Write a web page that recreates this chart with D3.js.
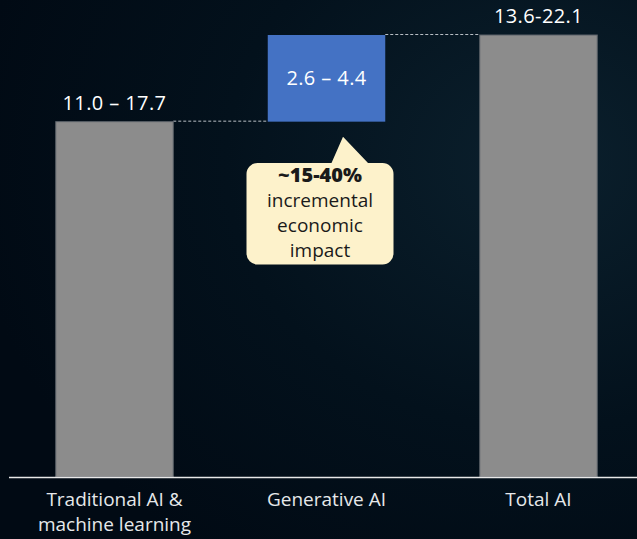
<!DOCTYPE html>
<html><head><meta charset="utf-8">
<script src="https://cdn.jsdelivr.net/npm/d3@7"></script>
<style>html,body{margin:0;padding:0;background:#020c17;overflow:hidden}</style>
</head><body>
<svg id="c" width="637" height="539"></svg>
<script>
const categories = ["Traditional AI & machine learning", "Generative AI", "Total AI"];
const categoryLines = [["Traditional AI &", "machine learning"], ["Generative AI"], ["Total AI"]];
const values = [14.35, 3.5, 17.85];          // mid-point of each range, $ trillion
const kinds = ["base", "delta", "total"];
const rangeLabels = ["11.0 \u2013 17.7", "2.6 \u2013 4.4", "13.6-22.1"];
const calloutLines = ["~15-40%", "incremental", "economic", "impact"];

const W = 637, H = 539;
const svg = d3.select("#c");
const defs = svg.append("defs");
const rg = defs.append("radialGradient").attr("id","bg").attr("cx","0.85").attr("cy","0.3").attr("r","0.9");
rg.append("stop").attr("offset","0").attr("stop-color","#0b202d");
rg.append("stop").attr("offset","0.55").attr("stop-color","#03111c");
rg.append("stop").attr("offset","1").attr("stop-color","#010a14");
svg.append("rect").attr("width",W).attr("height",H).attr("fill","url(#bg)");

const xs = d3.scalePoint().domain(categories).range([114.5, 538.5]);
const bw = 117.5;
const y = d3.scaleLinear().domain([0, 17.85]).range([477, 35]);

// build waterfall
let cum = 0;
const bars = values.map((v,i) => {
  let y0, y1;
  if (kinds[i] === "total") { y0 = 0; y1 = v; cum = v; }
  else { y0 = cum; y1 = cum + v; cum = y1; }
  return {cat: categories[i], y0, y1, kind: kinds[i], label: rangeLabels[i]};
});

// dashed connectors
for (let i = 0; i < bars.length - 1; i++) {
  const a = bars[i], b = bars[i+1];
  svg.append("line")
    .attr("x1", xs(a.cat) + bw/2).attr("x2", xs(b.cat) - bw/2)
    .attr("y1", y(a.y1) - 0.5).attr("y2", y(a.y1) - 0.5)
    .attr("stroke", "#b8bec4").attr("stroke-width", 1).attr("stroke-dasharray", "3,2");
}

svg.selectAll("rect.bar").data(bars).join("rect").attr("class","bar")
  .attr("x", d => xs(d.cat) - bw/2)
  .attr("width", bw)
  .attr("y", d => y(d.y1))
  .attr("height", d => y(d.y0) - y(d.y1))
  .attr("fill", d => d.kind === "delta" ? "#4472c4" : "#8c8c8c")
  .attr("stroke", d => d.kind === "delta" ? "none" : "#5b6168")
  .attr("stroke-width", 1);

// labels
const font = "'Open Sans', 'Noto Sans', sans-serif";
svg.selectAll("text.val").data(bars).join("text").attr("class","val")
  .attr("x", d => xs(d.cat))
  .attr("y", d => d.kind === "delta" ? (y(d.y1) + y(d.y0))/2 + 7 : y(d.y1) - 12)
  .attr("text-anchor","middle")
  .attr("font-family", font).attr("font-size", 20)
  .attr("letter-spacing", 0.4)
  .attr("fill", "#ffffff")
  .text(d => d.label);

// baseline
svg.append("line").attr("x1", 9).attr("x2", 637).attr("y1", 477.5).attr("y2", 477.5)
  .attr("stroke", "#e8e8e8").attr("stroke-width", 1.5);

// category labels
categoryLines.forEach((lines, i) => {
  const t = svg.append("text").attr("x", xs(categories[i])).attr("y", 506)
    .attr("text-anchor","middle").attr("font-family", font).attr("font-size", 19)
    .attr("fill", "#e6e8ea");
  lines.forEach((l, j) => t.append("tspan").attr("x", xs(categories[i])).attr("dy", j ? 25 : 0).text(l));
});

// callout
const bx0 = 246.5, bx1 = 393.5, by0 = 163, by1 = 264.5, r = 11;
const apexX = 343, apexY = y(bars[1].y0) + 15, tl = 331.5, tr = 368;
const path = d3.path();
path.moveTo(bx0 + r, by0);
path.lineTo(tl, by0);
path.lineTo(apexX, apexY);
path.lineTo(tr, by0);
path.lineTo(bx1 - r, by0);
path.arcTo(bx1, by0, bx1, by0 + r, r);
path.lineTo(bx1, by1 - r);
path.arcTo(bx1, by1, bx1 - r, by1, r);
path.lineTo(bx0 + r, by1);
path.arcTo(bx0, by1, bx0, by1 - r, r);
path.lineTo(bx0, by0 + r);
path.arcTo(bx0, by0, bx0 + r, by0, r);
path.closePath();
svg.append("path").attr("d", path.toString()).attr("fill", "#fdf2cb");

const ct = svg.append("text").attr("text-anchor","middle").attr("font-family", font)
  .attr("font-size", 19).attr("fill", "#1a1a1a");
calloutLines.forEach((l, j) => ct.append("tspan").attr("x", 320).attr("y", 182 + j*25)
  .attr("font-weight", j === 0 ? "800" : "normal")
  .attr("font-size", j === 0 ? 20 : 19).text(l));
</script>
</body></html>
